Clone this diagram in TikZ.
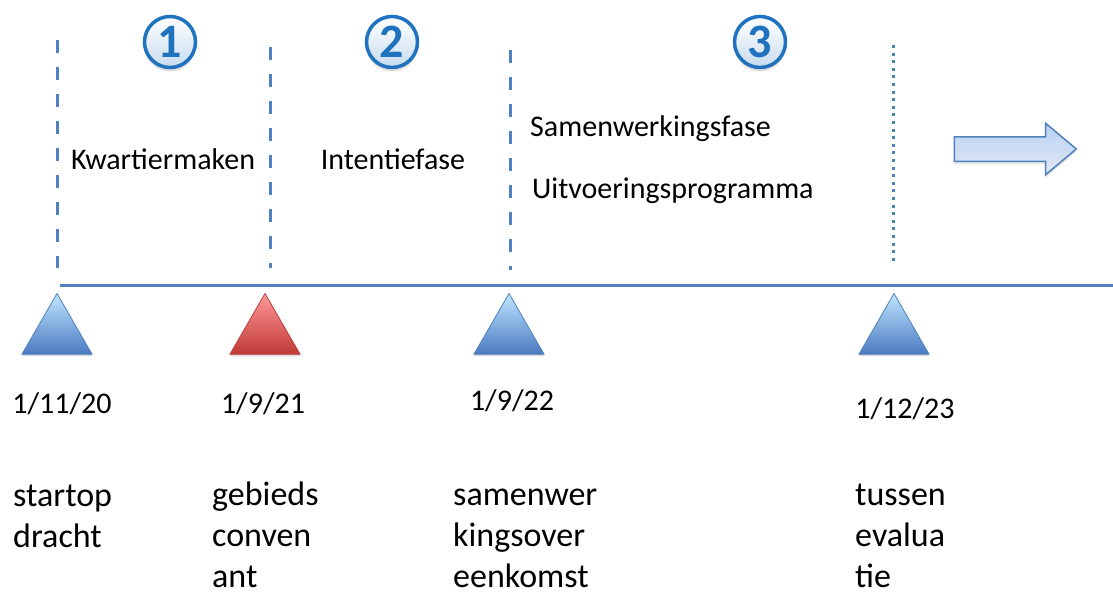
\documentclass[tikz,border=0pt]{standalone}
\usepackage{fontspec}
\setmainfont{Carlito}
\usetikzlibrary{%
  shapes.geometric,% wg. regular polygon
  shapes.arrows,% wg. single arrow
  shadows,%
  positioning%
}

\definecolor{lijnblauw}{HTML}{4F81BD}
\definecolor{cirkelblauw}{HTML}{1F72BD}
\definecolor{roodrand}{HTML}{B9403D}
\definecolor{pijlboven}{HTML}{B9D1F5}
\definecolor{pijlonder}{HTML}{E2E8F2}

\tikzset{
  fase/.style={lijnblauw, line width=3pt, dash pattern=on 13pt off 14pt},
  mijlpaal/.style={regular polygon, regular polygon sides=3, minimum size=81pt,
    inner sep=0pt, draw=lijnblauw, line width=0.8pt,
    top color=blue!40!cyan!25!white, bottom color=lijnblauw!95!blue,
    drop shadow={opacity=0.25, shadow xshift=0pt, shadow yshift=-2pt}},
  nummer/.style={circle, minimum size=51pt, inner sep=0pt, draw=cirkelblauw,
    line width=3.5pt, top color=white, bottom color=cirkelblauw!25!white,
    text=cirkelblauw, font=\fontsize{48}{48}\selectfont\bfseries,
    drop shadow={opacity=0.25, shadow xshift=0pt, shadow yshift=-4pt}},
  label/.style={font=\fontsize{30}{36}\selectfont, inner sep=0pt},
  datum/.style={font=\fontsize{30}{36}\selectfont, inner sep=0pt, anchor=base},
  omschr/.style={font=\fontsize{34}{41}\selectfont, inner sep=0pt, align=left, anchor=base west}
}

\begin{document}
\begin{tikzpicture}[x=1pt,y=-1pt]
  \useasboundingbox (0,0) rectangle (1113,592);

  %tijdlijn
  \coordinate (lijnbegin) at (60,285);
  \coordinate (lijneind) at (1113,285);
  \draw[lijnblauw, line width=3pt] (lijnbegin) -- (lijneind);

  %fasegrenzen
  \coordinate (grens1boven) at (57,40);   \coordinate (grens1onder) at (57,268);
  \coordinate (grens2boven) at (270,47);  \coordinate (grens2onder) at (270,268);
  \coordinate (grens3boven) at (510,50);  \coordinate (grens3onder) at (510,270);
  \coordinate (grens4boven) at (893,45);  \coordinate (grens4onder) at (893,262);
  \draw[fase] (grens1boven) -- (grens1onder);
  \draw[fase] (grens2boven) -- (grens2onder);
  \draw[fase] (grens3boven) -- (grens3onder);
  \draw[lijnblauw, line width=3pt, dash pattern=on 3pt off 4.6pt] (grens4boven) -- (grens4onder);

  %fasenummers
  \node[nummer] (fase1) at (170,42) {1};
  \node[nummer] (fase2) at (392,42) {2};
  \node[nummer] (fase3) at (760,42) {3};

  %fasenamen
  \node[label, anchor=base] (kwartier) at (163,169) {Kwartiermaken};
  \node[label, anchor=base] (intentie) at (393,169) {Intentiefase};
  \node[label, anchor=base west] (samenwerking) at (530,136) {Samenwerkingsfase};
  \node[label, anchor=base west] (uitvoering) at (532,198) {Uitvoeringsprogramma};

  %vervolg
  \node[single arrow, minimum height=122pt, minimum width=50pt,
    inner xsep=0pt, inner ysep=11.5pt,
    single arrow head extend=13.5pt, single arrow tip angle=80,
    draw=lijnblauw, line width=1.5pt, top color=pijlboven,
    bottom color=pijlonder,
    drop shadow={opacity=0.2, shadow xshift=0pt, shadow yshift=-3pt}] (vervolg) at (1008,149) {};

  %mijlpalen
  \node[mijlpaal] (start) at (57,334) {};
  \node[mijlpaal, draw=roodrand, top color=red!40!white, bottom color=roodrand!90!red] (convenant) at (265,334) {};
  \node[mijlpaal] (overeenkomst) at (509,334) {};
  \node[mijlpaal] (evaluatie) at (894,334) {};

  %data
  \node[datum] (datum1) at (62,413) {1/11/20};
  \node[datum] (datum2) at (263,413) {1/9/21};
  \node[datum] (datum3) at (512,410) {1/9/22};
  \node[datum] (datum4) at (905,418) {1/12/23};

  %omschrijvingen (anker op de laatste regel)
  \node[omschr] (tekst1) at (13,547) {startop\\dracht};
  \node[omschr] (tekst2) at (212,587) {gebieds\\conven\\ant};
  \node[omschr] (tekst3) at (453,587) {samenwer\\kingsover\\eenkomst};
  \node[omschr] (tekst4) at (855,587) {tussen\\evalua\\tie};

\end{tikzpicture}
\end{document}
